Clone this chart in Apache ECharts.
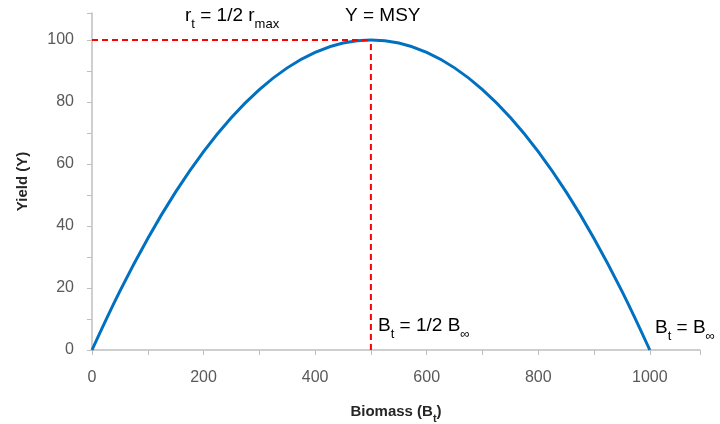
<!DOCTYPE html>
<html>
<head>
<meta charset="utf-8">
<script src="https://cdn.jsdelivr.net/npm/echarts@6/dist/echarts.min.js"></script>
<style>
  html, body { margin: 0; padding: 0; background: #fff; }
  #main { width: 720px; height: 424px; }
</style>
</head>
<body>
<div id="main"></div>
<script>
// biomass (x) and yield (y)
var biomass = [0, 50, 100, 150, 200, 250, 300, 350, 400, 450, 500, 550, 600, 650, 700, 750, 800, 850, 900, 950, 1000];
var yieldY = [0, 19, 36, 51, 64, 75, 84, 91, 96, 99, 100, 99, 96, 91, 84, 75, 64, 51, 36, 19, 0];
var msyLineH = [[0, 100], [500, 100]];
var msyLineV = [[500, 0], [500, 100]];
var xLabels = [0, 200, 400, 600, 800, 1000];

var font = "'Liberation Sans', sans-serif";
var sub = { fontSize: 13, fontFamily: font, color: '#262626', verticalAlign: 'bottom', lineHeight: 30 };
var big = { fontSize: 19, fontFamily: font, color: '#262626', lineHeight: 24 };

var myChart = echarts.init(document.getElementById('main'));
myChart.setOption({
  animation: false,
  grid: { left: 92, right: 20, top: 13, bottom: 74, outerBoundsMode: 'none' },
  xAxis: {
    type: 'value',
    min: 0,
    max: 1090,
    interval: 100,
    name: '{a|Biomass (B}{s|t}{a|)}',
    nameLocation: 'middle',
    nameGap: 50,
    nameTextStyle: {
      rich: {
        a: { fontSize: 15, fontWeight: 'bold', fontFamily: font, color: '#262626', lineHeight: 20 },
        s: { fontSize: 11, fontWeight: 'bold', fontFamily: font, color: '#262626', verticalAlign: 'bottom', lineHeight: 24 }
      }
    },
    splitLine: { show: false },
    axisLine: { lineStyle: { color: '#bfbfbf', width: 1.5 } },
    axisTick: { show: true, length: 5, lineStyle: { color: '#bfbfbf' } },
    axisLabel: {
      color: '#595959', fontSize: 16, fontFamily: font, margin: 20,
      formatter: function (v) { return xLabels.indexOf(v) >= 0 ? String(v) : ''; }
    }
  },
  yAxis: {
    type: 'value',
    min: 0,
    max: 108.7,
    interval: 10,
    name: 'Yield (Y)',
    nameLocation: 'middle',
    nameGap: 62,
    nameTextStyle: { fontWeight: 'bold', fontSize: 15, color: '#262626', fontFamily: font },
    splitLine: { show: false },
    axisLine: { show: true, lineStyle: { color: '#bfbfbf', width: 1.5 } },
    axisTick: { show: true, length: 5, lineStyle: { color: '#bfbfbf' } },
    axisLabel: {
      color: '#595959', fontSize: 16, fontFamily: font, margin: 18,
      formatter: function (v) { return v % 20 === 0 && v <= 100 ? String(v) : ''; }
    }
  },
  series: [
    {
      type: 'line',
      data: msyLineH,
      symbol: 'none',
      lineStyle: { color: '#ff0000', width: 2, type: [6, 4] },
      z: 3
    },
    {
      type: 'line',
      data: msyLineV,
      symbol: 'none',
      lineStyle: { color: '#ff0000', width: 2, type: [6, 4] },
      z: 3
    },
    {
      type: 'line',
      data: biomass.map(function (b, i) { return [b, yieldY[i]]; }),
      smooth: 0.4,
      symbol: 'none',
      lineStyle: { color: '#0070c0', width: 3 },
      z: 2
    }
  ],
  graphic: [
    {
      type: 'text', left: 185, top: 6,
      style: { text: '{a|r}{s|t}{a| = 1/2 r}{s|max}', rich: { a: big, s: sub } }
    },
    {
      type: 'text', left: 345, top: 6,
      style: { text: '{a|Y = MSY}', rich: { a: big } }
    },
    {
      type: 'text', left: 378, top: 316,
      style: { text: '{a|B}{s|t}{a| = 1/2 B}{s|\u221e}', rich: { a: big, s: sub } }
    },
    {
      type: 'text', left: 655, top: 318,
      style: { text: '{a|B}{s|t}{a| = B}{s|\u221e}', rich: { a: big, s: sub } }
    }
  ]
});
</script>
</body>
</html>
